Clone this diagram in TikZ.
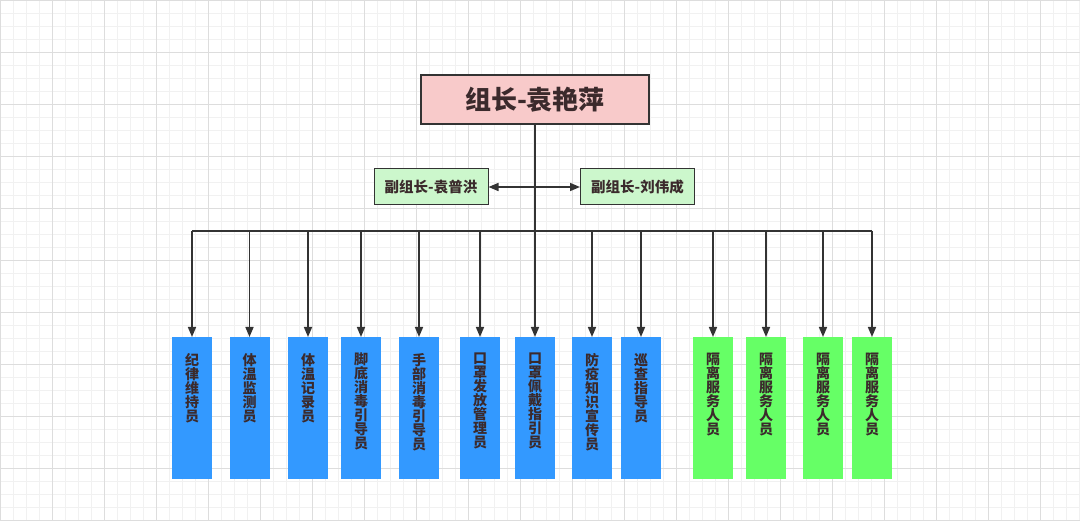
\documentclass[tikz,border=0pt]{standalone}
\usepackage{fontspec}
\newfontfamily\cjk{Noto Sans CJK SC}
\usetikzlibrary{arrows.meta}
\definecolor{txt}{HTML}{3B2A2C}
\definecolor{lineC}{HTML}{333333}
\definecolor{pinkF}{HTML}{F8CACA}
\definecolor{lgreen}{HTML}{CCF7CC}
\definecolor{blueF}{HTML}{3399FF}
\definecolor{greenF}{HTML}{66FF66}
\definecolor{gridMinor}{HTML}{F1F1F1}
\definecolor{gridMajor}{HTML}{DDDDDD}
\tikzset{
  headbox/.style={draw=lineC, line width=1.5pt, fill=pinkF, minimum width=228pt, minimum height=49pt, inner sep=0pt,
    font=\cjk\bfseries\fontsize{26}{30}\selectfont, text=txt},
  deputybox/.style={draw=lineC, line width=1pt, fill=lgreen, minimum width=114pt, minimum height=36pt, inner sep=0pt,
    font=\cjk\bfseries\fontsize{14.5}{17}\selectfont, text=txt},
  staffbox/.style={minimum width=40pt, minimum height=142pt, inner sep=0pt, anchor=north},
  bluebox/.style={staffbox, fill=blueF},
  greenbox/.style={staffbox, fill=greenF},
  stafftext/.style={anchor=north, inner sep=0pt, align=center, text=txt,
    font=\cjk\bfseries\fontsize{14}{14}\selectfont},
  conn/.style={draw=lineC, line width=1.6pt},
  arr/.style={conn, -{Triangle[length=10pt,width=8pt]}},
}
\begin{document}
\begin{tikzpicture}[x=1pt,y=-1pt]
\useasboundingbox (0,0) rectangle (1080,521);
\fill[white] (0,0) rectangle (1080,521);
% grid
\foreach \i in {0,13,...,1080} \draw[gridMinor, line width=0.6pt] (\i,0) -- (\i,521);
\foreach \i in {0,13,...,521} \draw[gridMinor, line width=0.6pt] (0,\i) -- (1080,\i);
\foreach \i in {0,52,...,1080} \draw[gridMajor, line width=0.8pt] (\i,0) -- (\i,521);
\foreach \i in {0,52,...,521} \draw[gridMajor, line width=0.8pt] (0,\i) -- (1080,\i);

% head
\node[headbox] (head) at (535,99.5) {组长-袁艳萍};
% deputies
\node[deputybox] (dl) at (431,187) {副组长-袁普洪};
\node[deputybox] (dr) at (637.5,187) {副组长-刘伟成};

% staff boxes
\foreach \n/\x/\s/\t in {
  b1/192/bluebox/{纪\\律\\维\\持\\员},
  b2/249.5/bluebox/{体\\温\\监\\测\\员},
  b3/308/bluebox/{体\\温\\记\\录\\员},
  b4/361/bluebox/{脚\\底\\消\\毒\\引\\导\\员},
  b5/419/bluebox/{手\\部\\消\\毒\\引\\导\\员},
  b6/480/bluebox/{口\\罩\\发\\放\\管\\理\\员},
  b7/535/bluebox/{口\\罩\\佩\\戴\\指\\引\\员},
  b8/592/bluebox/{防\\疫\\知\\识\\宣\\传\\员},
  b9/641/bluebox/{巡\\查\\指\\导\\员},
  g1/713/greenbox/{隔\\离\\服\\务\\人\\员},
  g2/766/greenbox/{隔\\离\\服\\务\\人\\员},
  g3/823/greenbox/{隔\\离\\服\\务\\人\\员},
  g4/872/greenbox/{隔\\离\\服\\务\\人\\员}} {
  \node[\s] (\n) at (\x,337) {};
  \node[stafftext] (\n t) at (\x,353) {\t};
}

% trunk
\coordinate (busL) at (b1.north |- 0,231);
\coordinate (busR) at (g4.north |- 0,231);
\coordinate (busM) at (head.south |- 0,231);
\draw[conn, line width=2.6pt] (head.south) -- (busM);
\draw[conn] (busL) -- (busR);
\draw[arr, {Triangle[length=10pt,width=8pt]}-{Triangle[length=10pt,width=8pt]}] (dl.east) -- (dr.west);
\foreach \n in {b1,b2,b3,b4,b5,b6,b7,b8,b9,g1,g2,g3,g4}
  \draw[arr] (\n.north |- busM) -- (\n.north);
\end{tikzpicture}
\end{document}
